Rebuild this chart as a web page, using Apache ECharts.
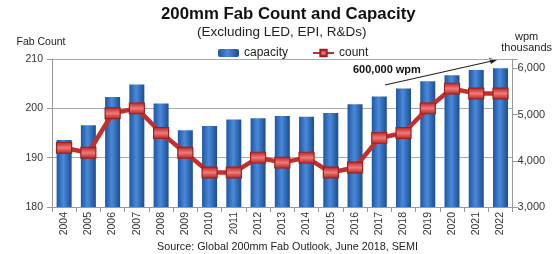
<!DOCTYPE html>
<html>
<head>
<meta charset="utf-8">
<script src="https://cdn.jsdelivr.net/npm/echarts@6/dist/echarts.min.js"></script>
<style>
  html, body { margin: 0; padding: 0; background: #fff; }
  #fabChart { width: 555px; height: 254px; }
</style>
</head>
<body>
<div id="fabChart"></div>
<script>
  // values
  var years = ['2004', '2005', '2006', '2007', '2008', '2009', '2010', '2011', '2012', '2013',
    '2014', '2015', '2016', '2017', '2018', '2019', '2020', '2021', '2022'];
  // capacity, wpm thousands (right axis)
  var capacity = [4450, 4770, 5380, 5650, 5240, 4660, 4750, 4890, 4920, 4970,
    4950, 5030, 5220, 5390, 5560, 5720, 5850, 5960, 6000];
  // fab count (left axis)
  var count = [192, 191, 199, 200, 195, 191, 187, 187, 190, 189,
    190, 187, 188, 194, 195, 200, 204, 203, 203];

  var font = 'Liberation Sans, Arial, sans-serif';

  var option = {
    animation: false,
    textStyle: { fontFamily: font },
    title: [{
      text: '200mm Fab Count and Capacity',
      left: 156,
      top: 1,
      textStyle: { fontSize: 16.8, fontWeight: 'bold', color: '#111', fontFamily: font }
    }, {
      text: '(Excluding LED, EPI, R&Ds)',
      left: 192,
      top: 20,
      textStyle: { fontSize: 13.5, fontWeight: 'normal', color: '#222', fontFamily: font }
    }, {
      text: 'Source: Global 200mm Fab Outlook, June 2018, SEMI',
      left: 152,
      top: 237,
      textStyle: { fontSize: 10.8, fontWeight: 'normal', color: '#222', fontFamily: font }
    }],
    legend: {
      top: 42,
      left: 213,
      itemGap: 24,
      itemWidth: 21,
      itemHeight: 8,
      textStyle: { fontSize: 12, color: '#222', fontFamily: font },
      data: ['capacity', 'count']
    },
    grid: { left: 52, right: 40, top: 59, bottom: 47 },
    xAxis: {
      type: 'category',
      data: years,
      axisLine: { lineStyle: { color: '#999' } },
      axisTick: { show: true, lineStyle: { color: '#999' } },
      axisLabel: { rotate: 90, fontSize: 10.5, color: '#333', margin: 5 }
    },
    yAxis: [{
      type: 'value',
      name: 'Fab Count',
      nameLocation: 'end',
      nameGap: 11,
      nameTextStyle: { fontSize: 10.5, color: '#222', align: 'center', padding: [0, 22, 0, 0] },
      min: 180,
      max: 210,
      interval: 10,
      axisLine: { show: true, lineStyle: { color: '#999' } },
      axisTick: { show: true, lineStyle: { color: '#999' } },
      axisLabel: { fontSize: 10.5, color: '#333', margin: 9 },
      splitLine: { lineStyle: { color: '#aaa' } }
    }, {
      type: 'value',
      name: 'wpm\nthousands',
      nameLocation: 'end',
      nameGap: 6,
      nameTextStyle: { fontSize: 11, color: '#222', align: 'center', lineHeight: 11, padding: [0, 0, 0, 28] },
      min: 3000,
      max: 6200,
      interval: 1000,
      axisLine: { show: true, lineStyle: { color: '#999' } },
      axisTick: { show: true, lineStyle: { color: '#999' } },
      axisLabel: {
        fontSize: 11,
        color: '#333',
        margin: 5,
        formatter: function (v) {
          if (v % 1000 !== 0) return '';
          return String(v).replace(/\B(?=(\d{3})+(?!\d))/g, ',');
        }
      },
      splitLine: { show: false }
    }],
    series: [{
      name: 'capacity',
      type: 'bar',
      yAxisIndex: 1,
      data: capacity,
      barWidth: 15,
      itemStyle: {
        color: new echarts.graphic.LinearGradient(0, 0, 1, 0, [
          { offset: 0, color: '#1d55a3' },
          { offset: 0.45, color: '#4a8ad8' },
          { offset: 1, color: '#1b4c92' }
        ])
      }
    }, {
      name: 'count',
      type: 'line',
      yAxisIndex: 0,
      data: count,
      symbol: 'rect',
      symbolSize: [15, 11],
      lineStyle: { color: '#c0302e', width: 4.5 },
      itemStyle: {
        color: new echarts.graphic.LinearGradient(0, 0, 0, 1, [
          { offset: 0, color: '#b3201f' },
          { offset: 0.5, color: '#f07a78' },
          { offset: 1, color: '#b3201f' }
        ]),
        borderColor: '#9c1f1d',
        borderWidth: 1
      }
    }],
    graphic: [{
      type: 'text',
      left: 353,
      top: 64,
      style: { text: '600,000 wpm', font: 'bold 11px ' + font, fill: '#111' }
    }, {
      type: 'line',
      shape: { x1: 385, y1: 85, x2: 492, y2: 61 },
      style: { stroke: '#222', lineWidth: 1.2 }
    }, {
      type: 'polygon',
      shape: { points: [[497, 60], [489, 58], [491, 64]] },
      style: { fill: '#222' }
    }]
  };

  var fabChart = echarts.init(document.getElementById('fabChart'));
  fabChart.setOption(option);
</script>
</body>
</html>
